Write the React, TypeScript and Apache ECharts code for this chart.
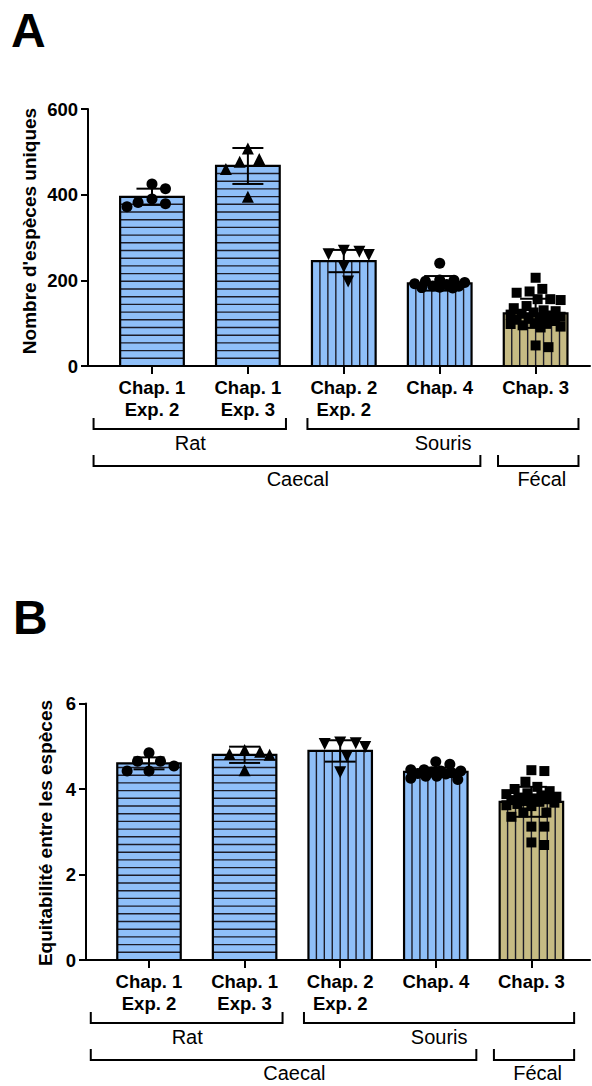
import React, { useEffect, useRef } from "react";
import * as echarts from "echarts";

// ---------- data ----------
const categories = ["Chap. 1\nExp. 2", "Chap. 1\nExp. 3", "Chap. 2\nExp. 2", "Chap. 4", "Chap. 3"];

// Panel A : Nombre d'espèces uniques
const richnessMean = [395, 467, 245, 193, 123];
const richnessSD = [19, 42, 26, 17, 34];
const richnessRatExp2 = [425, 414, 390, 382, 379, 372];
const richnessRatExp3 = [508, 483, 477, 460, 395];
const richnessMouseExp2 = [269, 267, 261, 259, 232, 197];
const richnessMouseChap4 = [240, 201, 200, 198, 195, 192, 190, 187, 186, 184, 183, 182];
const richnessFecal = [206, 180, 174, 171, 156, 156, 154, 140, 135, 130, 128, 125, 122, 120, 118, 115, 112, 110, 108, 105, 102, 100, 98, 95, 92, 90, 48, 44];

// Panel B : Equitabilité entre les espèces
const evenMean = [4.6, 4.8, 4.89, 4.4, 3.7];
const evenSD = [0.14, 0.19, 0.25, 0.1, 0.35];
const evenRatExp2 = [4.85, 4.65, 4.65, 4.54, 4.42, 4.42];
const evenRatExp3 = [4.91, 4.87, 4.82, 4.8, 4.44];
const evenMouseExp2 = [5.09, 5.07, 5.05, 4.98, 4.76, 4.39];
const evenMouseChap4 = [4.64, 4.58, 4.45, 4.45, 4.42, 4.42, 4.4, 4.38, 4.36, 4.35, 4.3, 4.3, 4.25, 4.22];
const evenFecal = [4.44, 4.42, 4.17, 4.05, 4.0, 3.95, 3.9, 3.88, 3.85, 3.82, 3.8, 3.78, 3.76, 3.74, 3.72, 3.7, 3.68, 3.65, 3.62, 3.6, 3.45, 3.45, 3.35, 3.12, 3.12, 2.75, 2.69];

const richnessTicks = { min: 0, max: 600, interval: 200 };
const evenTicks = { min: 0, max: 6, interval: 2 };

const groupLabels = ["Rat", "Souris", "Caecal", "Fécal"];
const axisTitles = ["Nombre d'espèces uniques", "Equitabilité entre les espèces"];

// ---------- styling / layout ----------
const BLUE = "#8fbff8";
const KHAKI = "#c6bb84";
const INK = "#000000";
const FONT = "'Liberation Sans', Arial, Helvetica, sans-serif";
const BAR_HALF = 0.332;

const panelA = { left: 88, top: 109, width: 502, height: 257, xMin: -0.667, xMax: 4.567 };
const panelB = { left: 86, top: 703.5, width: 504, height: 256.5, xMin: -0.659, xMax: 4.613 };

const symbols = [
  { symbol: "circle", size: 11, rotate: 0 },
  { symbol: "triangle", size: 12, rotate: 0 },
  { symbol: "triangle", size: 12, rotate: 180 },
  { symbol: "circle", size: 11, rotate: 0 },
  { symbol: "rect", size: 10, rotate: 0 },
];

function swarm(values: number[], yScale: number, xScale: number, d: number, cap: number) {
  const placed: { x: number; y: number }[] = [];
  const out: number[][] = [];
  values.forEach((v) => {
    const y = v * yScale;
    const cands = [0];
    placed.forEach((q) => {
      const dy = Math.abs(q.y - y);
      if (dy < d) {
        const dx = Math.sqrt(d * d - dy * dy);
        cands.push(q.x + dx, q.x - dx);
      }
    });
    const ok = (x: number) => placed.every((q) => (q.x - x) ** 2 + (q.y - y) ** 2 >= d * d - 1e-6);
    let best: number | null = null;
    cands
      .filter((c) => Math.abs(c) <= cap)
      .sort((a, b) => Math.abs(a) - Math.abs(b) || b - a)
      .forEach((c) => {
        if (best === null && ok(c)) best = c;
      });
    if (best === null) {
      let bestScore = -1;
      for (let x = -cap; x <= cap; x += 1) {
        const s = Math.min(...placed.map((q) => Math.hypot(q.x - x, q.y - y)));
        if (s > bestScore) {
          bestScore = s;
          best = x;
        }
      }
    }
    placed.push({ x: best as number, y });
    out.push([(best as number) / xScale, v]);
  });
  return out;
}

const barRender = (params: any, api: any) => {
  const i = api.value(0);
  const v = api.value(1);
  const bl = api.coord([i - BAR_HALF, 0]);
  const tr = api.coord([i + BAR_HALF, v]);
  const x0 = bl[0], x1 = tr[0], yb = bl[1], yt = tr[1];
  const w = x1 - x0, h = yb - yt;
  const children: any[] = [
    { type: "rect", shape: { x: x0, y: yt, width: w, height: h }, style: { fill: i === 4 ? KHAKI : BLUE } },
  ];
  const hatch = { stroke: "#1c1c28", lineWidth: 1.4 };
  if (i < 2) {
    for (let y = yb - 7.7; y > yt + 2; y -= 7.7) {
      children.push({ type: "line", shape: { x1: x0, y1: y, x2: x1, y2: y }, style: hatch });
    }
  } else {
    for (let k = 1; k < 8; k++) {
      const x = x0 + (k * w) / 8;
      children.push({ type: "line", shape: { x1: x, y1: yt, x2: x, y2: yb }, style: hatch });
    }
  }
  children.push({
    type: "rect",
    shape: { x: x0, y: yt, width: w, height: h },
    style: { fill: "none", stroke: INK, lineWidth: 2.2 },
  });
  return { type: "group", children };
};

const errRender = (params: any, api: any) => {
  const i = api.value(0);
  const m = api.value(1);
  const s = api.value(2);
  const top = api.coord([i, m + s]);
  const bot = api.coord([i, m - s]);
  const hw = 15.5;
  const st = { stroke: INK, lineWidth: 2 };
  return {
    type: "group",
    children: [
      { type: "line", shape: { x1: top[0], y1: top[1], x2: bot[0], y2: bot[1] }, style: st },
      { type: "line", shape: { x1: top[0] - hw, y1: top[1], x2: top[0] + hw, y2: top[1] }, style: st },
      { type: "line", shape: { x1: bot[0] - hw, y1: bot[1], x2: bot[0] + hw, y2: bot[1] }, style: st },
    ],
  };
};

function buildPanel(
  idx: number,
  panel: typeof panelA,
  ticks: { min: number; max: number; interval: number },
  means: number[],
  sds: number[],
  groups: number[][]
) {
  const xScale = panel.width / (panel.xMax - panel.xMin);
  const yScale = panel.height / (ticks.max - ticks.min);
  const grid = { left: panel.left, top: panel.top, width: panel.width, height: panel.height, containLabel: false };
  const cats = categories.map((_, i) => i);
  const xAxis = {
    type: "value",
    gridIndex: idx,
    min: panel.xMin,
    max: panel.xMax,
    axisLine: { show: true, onZero: false, lineStyle: { color: INK, width: 2 } },
    axisTick: { show: true, customValues: cats, length: 8, lineStyle: { color: INK, width: 2 } },
    axisLabel: {
      show: true,
      customValues: cats,
      formatter: (v: number) => categories[Math.round(v)],
      margin: 10,
      color: INK,
      fontFamily: FONT,
      fontWeight: "bold",
      fontSize: 18.5,
      lineHeight: 22,
      align: "center",
    },
    splitLine: { show: false },
  };
  const yAxis = {
    type: "value",
    gridIndex: idx,
    min: ticks.min,
    max: ticks.max,
    interval: ticks.interval,
    axisLine: { show: true, onZero: false, lineStyle: { color: INK, width: 2 } },
    axisTick: { show: true, length: 7, lineStyle: { color: INK, width: 2 } },
    axisLabel: { margin: 10, color: INK, fontFamily: FONT, fontWeight: "bold", fontSize: 18.5 },
    splitLine: { show: false },
  };
  const series: any[] = [
    {
      type: "custom",
      xAxisIndex: idx,
      yAxisIndex: idx,
      renderItem: barRender,
      data: means.map((m, i) => [i, m]),
      encode: { x: 0, y: 1 },
      z: 1,
      clip: false,
    },
    {
      type: "custom",
      xAxisIndex: idx,
      yAxisIndex: idx,
      renderItem: errRender,
      data: means.map((m, i) => [i, m, sds[i]]),
      encode: { x: 0, y: [1] },
      z: 2,
      clip: false,
    },
  ];
  groups.forEach((vals, i) => {
    const sym = symbols[i];
    const pts = swarm(vals, yScale, xScale, sym.size * 1.3, 25);
    series.push({
      type: "scatter",
      xAxisIndex: idx,
      yAxisIndex: idx,
      symbol: sym.symbol,
      symbolSize: sym.size,
      symbolRotate: sym.rotate,
      itemStyle: { color: INK, opacity: 1 },
      data: pts.map(([dx, v]) => [i + dx, v]),
      z: 3,
    });
  });

  // brackets below the axis
  const toPx = (u: number) => panel.left + (u - panel.xMin) * xScale;
  const axisY = panel.top + panel.height;
  const bracket = (a: number, b: number, yTop: number, yBar: number) => ({
    type: "polyline",
    shape: {
      points: [
        [toPx(a), axisY + yTop],
        [toPx(a), axisY + yBar],
        [toPx(b), axisY + yBar],
        [toPx(b), axisY + yTop],
      ],
    },
    style: { stroke: INK, lineWidth: 2, fill: "none" },
  });
  const label = (text: string, u: number, dy: number) => ({
    type: "text",
    x: toPx(u),
    y: axisY + dy,
    style: { text, fill: INK, font: `20px ${FONT}`, textAlign: "center", textVerticalAlign: "middle" },
  });
  const graphics = [
    bracket(-0.609, 1.397, 52, 63),
    bracket(1.621, 4.447, 52, 63),
    bracket(-0.609, 3.424, 89, 100),
    bracket(3.608, 4.447, 89, 100),
    label(groupLabels[0], 0.4, 77),
    label(groupLabels[1], 3.035, 77),
    label(groupLabels[2], 1.52, 113),
    label(groupLabels[3], 4.065, 113),
  ];
  return { grid, xAxis, yAxis, series, graphics };
}

export default function App() {
  const ref = useRef<HTMLDivElement>(null);
  useEffect(() => {
    if (!ref.current) return;
    const chart = echarts.init(ref.current, null, { renderer: "svg" });
    const A = buildPanel(0, panelA, richnessTicks, richnessMean, richnessSD, [
      richnessRatExp2,
      richnessRatExp3,
      richnessMouseExp2,
      richnessMouseChap4,
      richnessFecal,
    ]);
    const B = buildPanel(1, panelB, evenTicks, evenMean, evenSD, [
      evenRatExp2,
      evenRatExp3,
      evenMouseExp2,
      evenMouseChap4,
      evenFecal,
    ]);
    const titleText = (text: string, x: number, y: number) => ({
      type: "text",
      x,
      y,
      rotation: Math.PI / 2,
      style: { text, fill: INK, font: `bold 19px ${FONT}`, textAlign: "center", textVerticalAlign: "middle" },
    });
    const letter = (text: string, x: number, y: number) => ({
      type: "text",
      x,
      y,
      style: { text, fill: INK, font: `bold 48px ${FONT}`, textAlign: "left", textVerticalAlign: "middle" },
    });
    chart.setOption({
      animation: false,
      backgroundColor: "#ffffff",
      grid: [A.grid, B.grid],
      xAxis: [A.xAxis, B.xAxis],
      yAxis: [A.yAxis, B.yAxis],
      series: [...A.series, ...B.series],
      graphic: [
        letter("A", 11, 30),
        letter("B", 13, 617.5),
        titleText(axisTitles[0], 29, 231),
        titleText(axisTitles[1], 45, 833),
        ...A.graphics,
        ...B.graphics,
      ],
    });
    return () => chart.dispose();
  }, []);
  return <div ref={ref} style={{ position: "fixed", left: 0, top: 0, width: 592, height: 1086 }} />;
}
